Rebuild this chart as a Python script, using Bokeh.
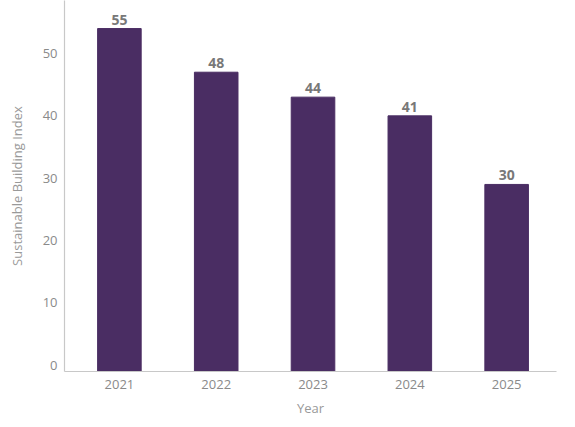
from bokeh.core.properties import value
from bokeh.embed import file_html
from bokeh.models import ColumnDataSource, FixedTicker, LinearAxis, Range1d
from bokeh.plotting import figure
from bokeh.resources import INLINE

years = [2021, 2022, 2023, 2024, 2025]
index_values = [55, 48, 44, 41, 30]
y_ticks = [0, 10, 20, 30, 40, 50]

FONT = "Open Sans"
BAR = "#4a2d63"

source = ColumnDataSource(data=dict(
    year=years,
    val=index_values,
    txt=[str(v) for v in index_values],
))

p = figure(
    width=567, height=419,
    x_range=Range1d(2020.433, 2025.515),
    y_range=Range1d(0, 59.5),
    y_axis_location=None,
    toolbar_location=None,
    output_backend="svg",
    min_border_left=64, min_border_right=11,
    min_border_top=0, min_border_bottom=42,
)

# tick labels of the left axis sit a little above their values in the reference
p.extra_y_ranges = {"ticks": Range1d(-1.0, 58.5)}
yaxis = LinearAxis(y_range_name="ticks", ticker=FixedTicker(ticks=y_ticks))
p.add_layout(yaxis, "left")

p.vbar(x="year", top="val", width=0.45, source=source,
       fill_color=BAR, line_color=BAR)

p.text(x="year", y="val", text="txt", source=source,
       text_font=value(FONT), text_font_size="14px", text_font_style="bold",
       text_color="#787878", text_align="center",
       text_baseline="bottom", y_offset=-4)

p.xaxis.ticker = FixedTicker(ticks=years)
p.xaxis.axis_label = "Year"
yaxis.axis_label = "Sustainable Building Index"

for ax in (p.xaxis[0], yaxis):
    ax.axis_line_color = "#c8c8c8"
    ax.axis_line_width = 1.2
    ax.major_tick_line_color = None
    ax.minor_tick_line_color = None
    ax.major_tick_out = 0
    ax.major_tick_in = 0
    ax.major_label_text_font = FONT
    ax.major_label_text_font_size = "13px"
    ax.major_label_text_color = "#8a8a8a"
    ax.axis_label_text_font = FONT
    ax.axis_label_text_font_size = "13px"
    ax.axis_label_text_font_style = "normal"
    ax.axis_label_text_color = "#999999"

p.xaxis.major_label_standoff = 8
p.xaxis.axis_label_standoff = 7
yaxis.major_label_standoff = 7
yaxis.axis_label_standoff = 14

p.grid.visible = False
p.outline_line_color = None
p.background_fill_color = "white"
p.border_fill_color = "white"

open("out.html", "w").write(file_html(p, INLINE))
